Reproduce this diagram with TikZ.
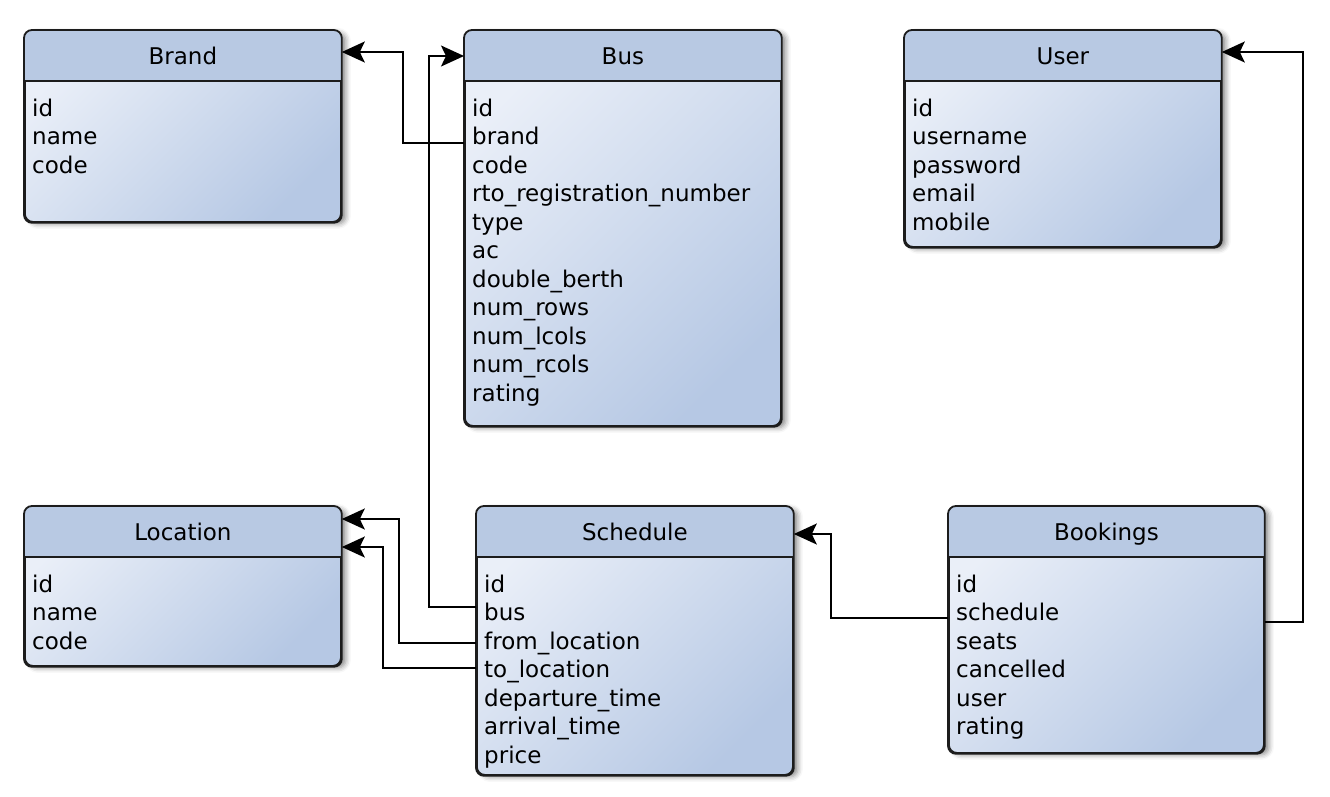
\documentclass[tikz,border=0pt]{standalone}
\usepackage{fontspec}
\setmainfont{DejaVu Sans}
\usetikzlibrary{arrows.meta,positioning,calc,shadows.blur}
\definecolor{headblue}{RGB}{184,201,227}
\definecolor{bodylight}{RGB}{234,239,248}
\definecolor{bodydark}{RGB}{182,200,228}
\definecolor{edgegray}{RGB}{28,28,28}

\begin{document}
\begin{tikzpicture}[x=1pt,y=-1pt,
  font=\fontsize{23}{28}\selectfont,
  entity/.style={rectangle,draw=edgegray,line width=1.8pt,rounded corners=8pt,
                 anchor=north west,inner sep=0pt,
                 left color=bodylight,right color=bodydark,shading angle=45,
                 blur shadow={shadow xshift=5pt,shadow yshift=-2pt,
                              shadow blur radius=5pt,shadow opacity=45}},
  head/.style={minimum height=51pt,inner sep=0pt,text height=17pt,text depth=0pt},
  attr/.style={anchor=west,inner xsep=8pt,inner ysep=0pt,text height=17pt,text depth=5pt},
  fk/.style={draw=black,line width=1.8pt,-{Stealth[length=23pt,width=21pt,inset=5pt]}},
]
\useasboundingbox (0,0) rectangle (1330,796);

% Tables
\node[entity,minimum width=316pt,minimum height=191pt] (brand)    at (24,30)  {};
\node[entity,minimum width=316pt,minimum height=395pt] (bus)      at (464,30) {};
\node[entity,minimum width=316pt,minimum height=216pt] (user)     at (904,30) {};
\node[entity,minimum width=316pt,minimum height=159pt] (location) at (24,506)  {};
\node[entity,minimum width=316pt,minimum height=268pt] (schedule) at (476,506) {};
\node[entity,minimum width=315pt,minimum height=246pt] (bookings) at (948,506) {};

% Header bands
\foreach \t in {brand,bus,user,location,schedule,bookings}{
  \begin{scope}
    \clip[rounded corners=8pt] (\t.south west) rectangle (\t.north east);
    \fill[headblue] (\t.north west) rectangle ([yshift=-51pt]\t.north east);
  \end{scope}
  \draw[edgegray,line width=1.8pt] ([yshift=-51pt]\t.north west) -- ([yshift=-51pt]\t.north east);
  \draw[edgegray,line width=1.8pt,rounded corners=8pt] (\t.south west) rectangle (\t.north east);
}

% Titles
\node[head,below=0pt of brand.north]    (brand-title)    {Brand};
\node[head,below=0pt of bus.north]      (bus-title)      {Bus};
\node[head,below=0pt of user.north]     (user-title)     {User};
\node[head,below=0pt of location.north] (location-title) {Location};
\node[head,below=0pt of schedule.north] (schedule-title) {Schedule};
\node[head,below=0pt of bookings.north] (bookings-title) {Bookings};

% Fields
\foreach \n/\f [count=\i from 0] in {id/id,name/name,code/code}
  \node[attr] (brand-\n) at ($(brand.north west)+(0,80+28.5*\i)$) {\f};
\foreach \n/\f [count=\i from 0] in {id/id,brand/brand,code/code,
    rto/rto\_registration\_number,type/type,ac/ac,berth/double\_berth,
    rows/num\_rows,lcols/num\_lcols,rcols/num\_rcols,rating/rating}
  \node[attr] (bus-\n) at ($(bus.north west)+(0,80+28.5*\i)$) {\f};
\foreach \n/\f [count=\i from 0] in {id/id,username/username,password/password,
    email/email,mobile/mobile}
  \node[attr] (user-\n) at ($(user.north west)+(0,80+28.5*\i)$) {\f};
\foreach \n/\f [count=\i from 0] in {id/id,name/name,code/code}
  \node[attr] (location-\n) at ($(location.north west)+(0,80+28.5*\i)$) {\f};
\foreach \n/\f [count=\i from 0] in {id/id,bus/bus,from/from\_location,
    to/to\_location,dep/departure\_time,arr/arrival\_time,price/price}
  \node[attr] (schedule-\n) at ($(schedule.north west)+(0,80+28.5*\i)$) {\f};
\foreach \n/\f [count=\i from 0] in {id/id,schedule/schedule,seats/seats,
    cancelled/cancelled,user/user,rating/rating}
  \node[attr] (bookings-\n) at ($(bookings.north west)+(0,80+28.5*\i)$) {\f};

% Foreign keys
\draw[fk] ($(bus-brand.west)+(0,4.5)$) -- ++(-61,0) |- ($(brand.north east)+(0,22)$);
\draw[fk] ($(schedule-bus.west)+(0,-7.5)$) -- ++(-47,0) |- ($(bus.north west)+(0,26)$);
\draw[fk] (schedule-from.west) -- ++(-77,0) |- ($(location.north east)+(0,13)$);
\draw[fk] ($(schedule-to.west)+(0,-3.5)$) -- ++(-93,0) |- ($(location.north east)+(0,41)$);
\draw[fk] ($(bookings-schedule.west)+(0,3.5)$) -- ++(-117,0) |- ($(schedule.north east)+(0,28)$);
\draw[fk] ($(bookings-schedule.west -| bookings.east)+(0,7.5)$) -- ++(38,0) |- ($(user.north east)+(0,22)$);
\end{tikzpicture}
\end{document}
